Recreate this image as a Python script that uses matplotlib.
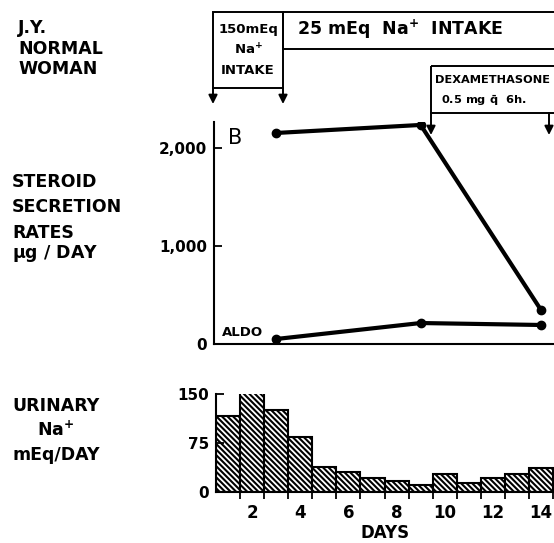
import matplotlib.pyplot as plt
from matplotlib.patches import Rectangle

plt.rcParams['font.family'] = ['DejaVu Sans']
plt.rcParams['font.weight'] = 'bold'
plt.rcParams['axes.labelweight'] = 'bold'
plt.rcParams['mathtext.fontset'] = 'dejavusans'
plt.rcParams['mathtext.default'] = 'bf'
plt.rcParams['hatch.linewidth'] = 1.5

# steroid secretion rates (ug/day)
steroid_days = [3, 9, 14]
total_steroid = [2153, 2235, 347]
aldo = [51, 214, 194]

# urinary Na+ (mEq/day)
days = list(range(1, 15))
urinary_na = [116, 155, 125, 84, 39, 31, 22, 17, 10, 27, 14, 21, 27, 37]

W, H = 554, 543
fig = plt.figure(figsize=(W / 100, H / 100), dpi=100)

def fx(px):
    return px / W

def fy(py):
    return 1 - py / H

# overlay in pixel coords for labels, boxes and arrows
ov = fig.add_axes([0, 0, 1, 1], zorder=0)
ov.set_xlim(0, W); ov.set_ylim(H, 0); ov.axis('off')

TXT = dict(color='black', fontsize=12.5)
for s, y in [("J.Y.", 28), ("NORMAL", 49), ("WOMAN", 69)]:
    ov.text(18, y, s, ha='left', va='center', **TXT)
for s, y in [("STEROID", 182), ("SECRETION", 207), ("RATES", 233), (r"$\mu$g / DAY", 254)]:
    ov.text(12, y, s, ha='left', va='center', **TXT)
ov.text(56, 406, "URINARY", ha='center', va='center', **TXT)
ov.text(56, 430, r"Na$^{+}$", ha='center', va='center', **TXT)
ov.text(56, 455, "mEq/DAY", ha='center', va='center', **TXT)

# intake boxes
box = dict(facecolor='none', edgecolor='black', lw=1.4, clip_on=False)
ov.add_patch(Rectangle((213, 12), 70, 76, **box))
ov.add_patch(Rectangle((283, 12), 300, 37, **box))
ov.add_patch(Rectangle((431, 66), 150, 47, **box))
ov.text(248, 29, "150mEq", ha='center', va='center', fontsize=9.5)
ov.text(248, 50, r"Na$^{+}$", ha='center', va='center', fontsize=9.5)
ov.text(248, 71, "INTAKE", ha='center', va='center', fontsize=9.5)
ov.text(297, 29, r"25 mEq  Na$^{+}$  INTAKE", ha='left', va='center', fontsize=12.5)
ov.text(435, 80, "DEXAMETHASONE", ha='left', va='center', fontsize=8.2)
ov.text(441, 101, r"0.5 mg $\bar{\mathrm{q}}$  6h.", ha='left', va='center', fontsize=8.2)

arr = dict(arrowstyle='-|>', color='black', lw=1.4, mutation_scale=13, shrinkA=0, shrinkB=0)
for x0, y0, y1 in [(213, 88, 104), (283, 88, 104), (431, 113, 135), (549, 113, 135)]:
    ov.annotate('', xy=(x0, y1), xytext=(x0, y0), arrowprops=arr, zorder=5)

# upper panel: steroid secretion
ax = fig.add_axes([fx(214), fy(344), fx(340), 222 / H], zorder=2)
ax.patch.set_visible(False)
ax.plot(steroid_days, total_steroid, color='black', lw=3, marker='o', ms=6, solid_capstyle='round')
ax.plot(steroid_days, aldo, color='black', lw=3, marker='o', ms=6, solid_capstyle='round')
ax.set_xlim(0.417, 14.54)
ax.set_ylim(0, 2265)
ax.set_yticks([0, 1000, 2000])
ax.set_yticklabels(["0", "1,000", "2,000"])
ax.set_xticks([])
ax.tick_params(axis='y', direction='in', length=6, width=1.3, pad=5, labelsize=11)
for sp in ['top', 'right']:
    ax.spines[sp].set_visible(False)
for sp in ['left', 'bottom']:
    ax.spines[sp].set_linewidth(1.5)
ax.text(1.0, 2100, "B", ha='left', va='center', fontsize=15, fontweight='normal')
ax.text(0.75, 120, "ALDO", ha='left', va='center', fontsize=9.5)

# lower panel: urinary Na+
bx = fig.add_axes([fx(216), fy(492), fx(338), 98 / H], zorder=2)
bx.patch.set_visible(False)
bx.bar(days, urinary_na, width=1.0, facecolor='white', edgecolor='black', lw=1.5,
       hatch='\\' * 6)
bx.set_xlim(0.5, 14.54)
bx.set_ylim(0, 150)
bx.set_yticks([0, 75, 150])
bx.set_xticks([2, 4, 6, 8, 10, 12, 14])
bx.set_xticks([d + 0.5 for d in days], minor=True)
bx.tick_params(axis='x', which='major', length=0, pad=9, labelsize=12)
bx.tick_params(axis='x', which='minor', direction='out', length=5, width=1.3)
bx.tick_params(axis='y', direction='in', length=6, width=1.3, pad=5, labelsize=11)
for sp in ['top', 'right']:
    bx.spines[sp].set_visible(False)
for sp in ['left', 'bottom']:
    bx.spines[sp].set_linewidth(1.5)
bx.set_xlabel("DAYS", fontsize=12, labelpad=1)

fig.savefig("out.png", dpi=100, facecolor='white')
